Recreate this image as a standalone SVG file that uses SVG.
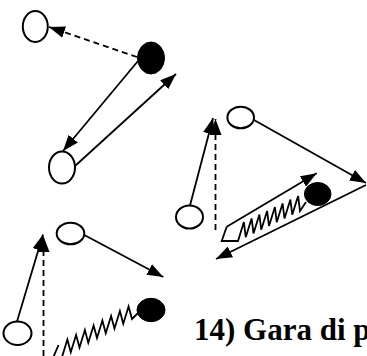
<svg xmlns="http://www.w3.org/2000/svg" width="367" height="356" viewBox="0 0 367 356">
<style>
.ln{stroke:#000;stroke-width:1.8;fill:none}
.ds{stroke:#000;stroke-width:1.8;fill:none;stroke-dasharray:6,4}
.wn{fill:#fff;stroke:#000;stroke-width:2}
.bn{fill:#000;stroke:#000;stroke-width:1}
.t{font-family:"Liberation Serif","Times New Roman",serif;font-weight:bold;font-size:31px;fill:#000}
</style>
<defs>
<marker id="ah" viewBox="0 0 16 12" markerWidth="16" markerHeight="12" markerUnits="userSpaceOnUse" refX="16" refY="6" orient="auto">
<path d="M0,0 L16,6 L0,12 z" fill="#000"/>
</marker>
</defs>
<rect width="367" height="356" fill="#fff"/>
<g id="connectors">
<line class="ds" x1="137" y1="57" x2="49" y2="27" marker-end="url(#ah)"/>
<line class="ln" x1="138" y1="61" x2="63" y2="151" marker-end="url(#ah)"/>
<line class="ln" x1="75" y1="166" x2="176" y2="74" marker-end="url(#ah)"/>
<line class="ln" x1="190" y1="205.5" x2="213" y2="118" marker-end="url(#ah)"/>
<line class="ds" x1="215.5" y1="230" x2="215.5" y2="119" marker-end="url(#ah)"/>
<line class="ln" x1="254" y1="120" x2="366" y2="183" marker-end="url(#ah)"/>
<line class="ln" x1="366" y1="185" x2="216" y2="259" marker-end="url(#ah)"/>
<line class="ln" x1="226.7" y1="226.7" x2="316.7" y2="173.3" marker-end="url(#ah)"/>
<polyline class="ln" points="226.7,226.7 221.7,241 238,241 243.9,222.1 245.75,237.25 251.6,218.4 253.5,233.5 259.4,214.6 261.25,229.75 267.1,210.9 269,226 274.9,207.1 276.75,222.25 282.6,203.4 284.5,218.5 290.4,199.6 292.25,214.75 298.1,195.9 300,211 306,202"/>
<line class="ln" x1="17" y1="321.5" x2="43" y2="234.5" marker-end="url(#ah)"/>
<line class="ds" x1="43.5" y1="356" x2="43.5" y2="236" marker-end="url(#ah)"/>
<line class="ln" x1="84.3" y1="235" x2="163.3" y2="277" marker-end="url(#ah)"/>
<polyline class="ln" points="58.5,345 53,358 62,357 67.4,339.6 70.75,352.25 76.1,334.9 79.5,347.5 84.9,330.1 88.25,342.75 93.6,325.4 97,338 102.4,320.6 105.75,333.25 111.1,315.9 114.5,328.5 119.9,311.1 123.25,323.75 128.6,306.4 132,319 138,313"/>
</g>
<g id="n1"><ellipse class="wn" cx="35.3" cy="26.5" rx="12.5" ry="15.5"/></g>
<g id="n2"><ellipse class="bn" cx="151" cy="58" rx="13.5" ry="16"/></g>
<g id="n3"><ellipse class="wn" cx="62" cy="167.5" rx="13" ry="16"/></g>
<g id="n4"><ellipse class="wn" cx="240.7" cy="117.5" rx="13.3" ry="10.8"/></g>
<g id="n5"><ellipse class="wn" cx="189.5" cy="217" rx="13.5" ry="11.5"/></g>
<g id="n6"><ellipse class="bn" cx="317.7" cy="194" rx="13.3" ry="11.5"/></g>
<g id="n7"><ellipse class="wn" cx="70.5" cy="233.5" rx="13.8" ry="10.8"/></g>
<g id="n8"><ellipse class="wn" cx="17.5" cy="333.3" rx="14" ry="11.7"/></g>
<g id="n9"><ellipse class="bn" cx="151" cy="310" rx="14" ry="11.7"/></g>
<text class="t" x="194" y="339.5">14) Gara di p</text>
</svg>
